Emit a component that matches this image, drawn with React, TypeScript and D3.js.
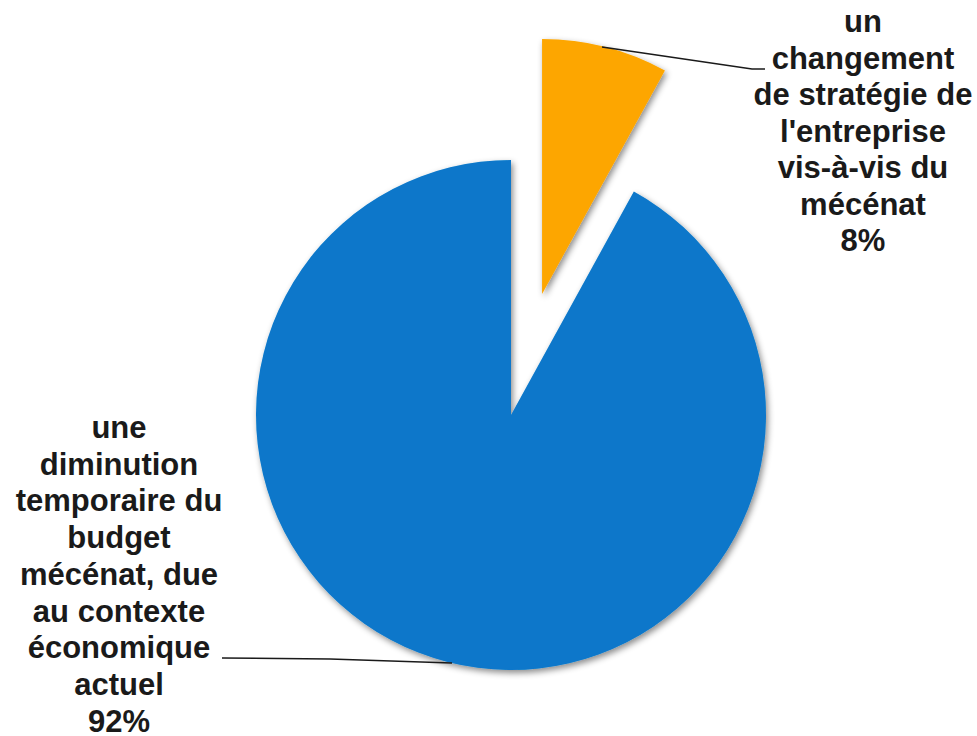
import React from "react";
import * as d3 from "d3";

const categories = [
  "un changement de stratégie de l'entreprise vis-à-vis du mécénat",
  "une diminution temporaire du budget mécénat, due au contexte économique actuel",
];
const values = [8, 92];
const percentLabels = ["8%", "92%"];
const labelLines = [
  ["un", "changement", "de stratégie de", "l'entreprise", "vis-à-vis du", "mécénat"],
  ["une", "diminution", "temporaire du", "budget", "mécénat, due", "au contexte", "économique", "actuel"],
];
const colors = ["#FDA604", "#0877CA"];

export default function App() {
  const W = 977;
  const H = 736;
  const cx = 511;
  const cy = 415;
  const radius = 255;
  const explode = 125;

  const pie = d3.pie<number>().sort(null).value((d) => d);
  const arcs = pie(values);
  const arcGen = d3.arc<d3.PieArcDatum<number>>().innerRadius(0).outerRadius(radius);

  const offsets = arcs.map((a, i) => {
    if (i !== 0) return [0, 0];
    const mid = (a.startAngle + a.endAngle) / 2;
    return [Math.sin(mid) * explode, -Math.cos(mid) * explode];
  });

  const labelCfg = [
    { x: 863, y0: 32, lh: 36.5, leader: [[602, 47], [752, 69], [765, 69]] },
    { x: 119, y0: 438, lh: 36.7, leader: [[222, 658], [330, 659], [452, 663]] },
  ];

  const line = d3.line();

  return (
    <svg
      width={W}
      height={H}
      style={{ position: "absolute", left: 0, top: 0, background: "#fff" }}
    >
      <defs>
        <filter id="shadow" x="-20%" y="-20%" width="140%" height="140%">
          <feDropShadow dx="2" dy="3" stdDeviation="3" floodColor="#000" floodOpacity="0.45" />
        </filter>
      </defs>
      {arcs.map((a, i) => (
        <path
          key={categories[i]}
          d={arcGen(a) || ""}
          fill={colors[i]}
          filter="url(#shadow)"
          transform={`translate(${cx + offsets[i][0]},${cy + offsets[i][1]})`}
        />
      ))}
      {labelCfg.map((c, i) => (
        <g key={"lab" + i}>
          <path d={line(c.leader as [number, number][]) || ""} fill="none" stroke="#1a1a1a" strokeWidth={1.6} />
          <text
            textAnchor="middle"
            fontFamily="Liberation Sans, Arial, sans-serif"
            fontWeight="bold"
            fontSize={31}
            fill="#1a1a1a"
          >
            {[...labelLines[i], percentLabels[i]].map((t, j) => (
              <tspan key={j} x={c.x} y={c.y0 + j * c.lh}>
                {t}
              </tspan>
            ))}
          </text>
        </g>
      ))}
    </svg>
  );
}
